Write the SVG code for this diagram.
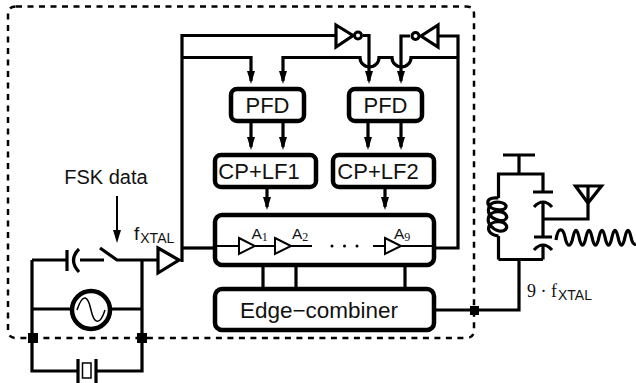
<svg xmlns="http://www.w3.org/2000/svg" width="636" height="383" viewBox="0 0 636 383">
<defs>
<marker id="arr" markerUnits="userSpaceOnUse" markerWidth="14" markerHeight="9" refX="10" refY="4.500" orient="auto"><path d="M0,0.500 L13,4.500 L0,8.500 Z" fill="#000"/></marker>
</defs>
<style>
text{font-family:"Liberation Sans",Arial,sans-serif;fill:#111}
.w{fill:none;stroke:#000;stroke-width:3.200}
.t{fill:none;stroke:#000;stroke-width:2}
.box{fill:#fff;stroke:#000;stroke-width:4.500}
.tri{fill:#fff;stroke:#000;stroke-width:3.200;stroke-linejoin:miter}
.l{font-size:22px;text-anchor:middle}
.s{font-size:15.500px}
.sf{font-family:"Liberation Serif",serif;font-size:12px}
</style>
<path id="border" d="M16,6.500 H466 Q474,6.500 474,14 V330 Q474,338 466,338 H16 Q8,338 8,330 V14 Q8,6.500 16,6.500 Z" fill="none" stroke="#000" stroke-width="2.500" stroke-dasharray="6 5.500"/>
<g id="connectors">
<path class="w" d="M336,35.500 H182 V262"/>
<path class="w" d="M182,57.500 H251 V81" marker-end="url(#arr)"/>
<path class="w" d="M458,57.500 H411 A9,9 0 0 1 392,57.500 H379 A9,9 0 0 1 360,57.500 H283 V81" marker-end="url(#arr)"/>
<path class="w" d="M363,35.500 H369 V81" marker-end="url(#arr)"/>
<path class="w" d="M410,36 H401 V81" marker-end="url(#arr)"/>
<path class="w" d="M438,36 H458 V248 H435"/>
<path class="w" d="M251,123 V147" marker-end="url(#arr)"/>
<path class="w" d="M283,123 V147" marker-end="url(#arr)"/>
<path class="w" d="M368,123 V147" marker-end="url(#arr)"/>
<path class="w" d="M401,123 V147" marker-end="url(#arr)"/>
<path class="w" d="M267,188 V207" marker-end="url(#arr)"/>
<path class="w" d="M385,188 V207" marker-end="url(#arr)"/>
<path class="w" d="M182,248 H214"/>
<path class="w" d="M263,266 V288 M296,266 V288 M405,266 V288"/>
<path class="w" d="M435,310 H519 V259.500 M498.500,259.500 H543 M498.500,259.500 V236 M498.500,198 V174 H543 V192 M519,174 V155 M503,155 H535"/>
<path class="w" d="M543,201 V237 M543,245 V259.500 M543,219 H588 V186"/>
<path class="w" d="M32,260 H67 M80,260 H104 M100,248 L117,260 H157 M142,260 V371 H96 M32,260 V371 H78 M32,309 H72 M110,309 H142"/>
<path class="t" d="M117,196 V240" marker-end="url(#arr)"/>
<rect x="28" y="333" width="10" height="10" fill="#000"/>
<rect x="137" y="333" width="10" height="10" fill="#000"/>
<rect x="470" y="306" width="9" height="9" fill="#000"/>
</g>
<g id="inv1"><path class="tri" d="M336,25 L353,35.500 L336,47 Z"/><circle cx="358" cy="35.500" r="3.500" fill="#fff" stroke="#000" stroke-width="3"/></g>
<g id="inv2"><path class="tri" d="M438,25 L421,36 L438,47 Z"/><circle cx="415.500" cy="36" r="3.500" fill="#fff" stroke="#000" stroke-width="3"/></g>
<g id="pfd1"><rect class="box" x="231" y="89" width="73" height="32" rx="6"/><text class="l" x="267.500" y="113">PFD</text></g>
<g id="pfd2"><rect class="box" x="349" y="89" width="73" height="32" rx="6"/><text class="l" x="385.500" y="113">PFD</text></g>
<g id="cp1"><rect class="box" x="215" y="155" width="101" height="32" rx="6"/><text class="l" x="259" y="179">CP+LF1</text></g>
<g id="cp2"><rect class="box" x="333" y="155" width="101" height="32" rx="6"/><text class="l" x="378" y="179">CP+LF2</text></g>
<g id="vco"><rect class="box" x="215" y="215" width="219" height="50" rx="7"/>
<path class="t" d="M214,246 H312 M373,246 H435"/>
<path class="tri" style="stroke-width:2" d="M239,238 L255,246 L239,254 Z"/>
<path class="tri" style="stroke-width:2" d="M275,238 L291,246 L275,254 Z"/>
<path class="tri" style="stroke-width:2" d="M385,238 L401,246 L385,254 Z"/>
<circle cx="332" cy="246" r="1.500" fill="#000"/><circle cx="344.500" cy="246" r="1.500" fill="#000"/><circle cx="357" cy="246" r="1.500" fill="#000"/>
<text x="251.500" y="239" class="s">A<tspan class="sf" dy="2">1</tspan></text>
<text x="292" y="239" class="s">A<tspan class="sf" dy="2">2</tspan></text>
<text x="394" y="239" class="s">A<tspan class="sf" dy="2">9</tspan></text>
</g>
<g id="edge"><rect class="box" x="215" y="289" width="219" height="41" rx="7"/><text class="l" style="font-size:22.500px" x="319" y="318">Edge−combiner</text></g>
<g id="xbuf"><path class="tri" d="M158,248 L179,260 L158,273 Z"/><text x="134" y="240" style="font-size:19px">f<tspan dx="1" dy="3" style="font-size:14px">XTAL</tspan></text></g>
<g id="fsk"><text x="106" y="184" style="font-size:20px;text-anchor:middle">FSK data</text></g>
<g id="cap1"><path class="w" d="M67,250 V271"/><path class="w" d="M79,249 Q68,260 79,272"/></g>
<g id="src"><circle cx="91" cy="310" r="19" fill="#fff" stroke="#000" stroke-width="4.500"/><path d="M77,310 C83,292 88,296 91,310 C94,324 100,326 105,310" fill="none" stroke="#000" stroke-width="1.500"/></g>
<g id="xtal"><path class="w" d="M78,359 V383 M96,359 V383"/><rect x="82.500" y="363" width="8.500" height="15" fill="#fff" stroke="#000" stroke-width="1.500"/></g>
<g id="tank">
<path class="w" d="M498.500,198 C490,197 487,200 488,204 C490,210 504,212 506,207 C507,202 494,200 490,205 C486,212 490,218 498,220 C505,222 508,218 506,215 C503,210 492,211 489,216 C486,223 492,229 499,231 C505,232 508,228 506,225 C503,220 492,221 489,226 C487,232 492,235 498.500,236"/>
<path class="w" d="M533,192 H553 M534,237 H552"/>
<path class="w" d="M534,207 Q543,197 552,207 M534,250 Q543,240 552,250"/>
<path class="w" d="M575.500,186 H601.500 L588,203 Z" stroke-linejoin="miter"/>
<path class="w" d="M556,240 C558,226 563,228 565,237 C567,248 571,248 573,237 C575,228 577,228 579,237 C581,248 584,248 586,237 C588,228 590,228 592,237 C594,248 597,248 599,237 C601,228 603,228 605,237 C607,248 610,248 612,237 C614,228 616,228 618,237 C620,248 623,248 625,237 C627,228 629,228 631,237 C632,243 634,245 636,244"/>
<text x="527" y="297" style="font-family:'Liberation Serif',serif;font-size:18px">9 · f<tspan dx="1" dy="3" style="font-family:'Liberation Sans',sans-serif;font-size:14px">XTAL</tspan></text>
</g>
</svg>
